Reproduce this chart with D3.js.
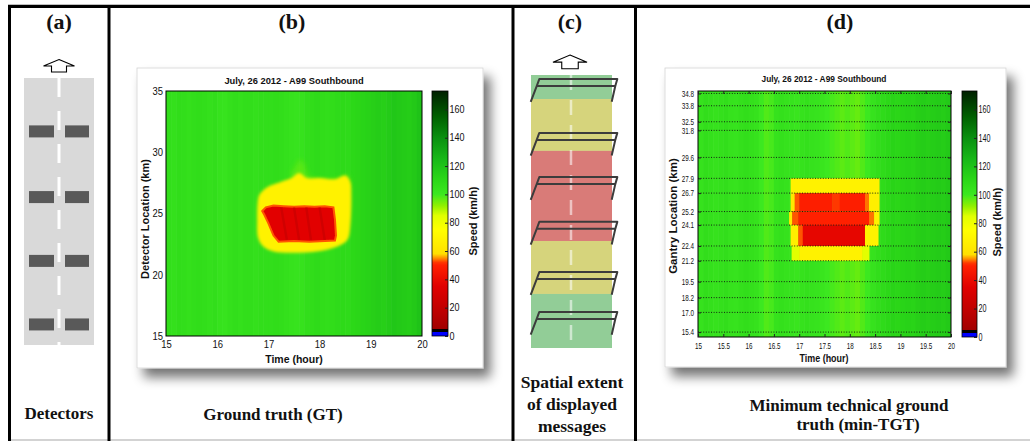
<!DOCTYPE html>
<html>
<head>
<meta charset="utf-8">
<script src="https://cdn.jsdelivr.net/npm/d3@7"></script>
<style>
  body { margin: 0; background: #fff; }
  svg { display: block; }
  .plot text { font-family: "Liberation Sans", Arial, sans-serif; fill: #111; }
  .cap { font-family: "Liberation Serif", "Times New Roman", serif; font-weight: bold; fill: #111; text-anchor: middle; }
</style>
</head>
<body>
<svg id="fig" width="1030" height="441"></svg>
<script>
// ---- data ----
const timeTicksB = [15, 16, 17, 18, 19, 20]
const kmTicksB = [15, 20, 25, 30, 35]
const timeTicksD = [15, 15.5, 16, 16.5, 17, 17.5, 18, 18.5, 19, 19.5, 20]
const gantryKm = [15.4, 17.0, 18.2, 19.5, 21.2, 22.4, 24.1, 25.2, 26.7, 27.9, 29.6, 31.8, 32.5, 33.8, 34.8]
const speedTicks = [0, 20, 40, 60, 80, 100, 120, 140, 160]
const speedMax = 173

// colour map of the speed bar (km/h -> colour)
const cmapSpeed = [0, 2.5, 2.5, 4.7, 4.7, 15, 35, 50, 52, 55, 58, 75, 85, 92, 100, 110, 125, 140, 155, 173]
const cmapColor = ['#0000ff', '#0000ff', '#000000', '#000000', '#a00000', '#b80000', '#e00000', '#ff2000', '#ff3800',
  '#ff9000', '#ffe000', '#ffff00', '#e0ff00', '#90f000', '#3ce820', '#2cd818', '#18b818', '#0a9010', '#006000', '#002000']

// free-flow speed per 0.1 h column, 15.0 .. 19.9
const colStep = 0.1
const bgSpeedB = [106, 105, 107, 106, 105, 106, 107, 106, 105, 106,
  104, 103, 105, 106, 105, 106, 106, 105, 106, 106,
  106, 107, 106, 105, 104, 103, 104, 106, 107, 108,
  107, 106, 107, 108, 109, 108, 110, 111, 112, 113,
  114, 115, 114, 116, 118, 117, 116, 115, 117, 120]
const bgSpeedD = [104, 106, 105, 104, 105, 106, 104, 103, 105, 106,
  105, 104, 100, 98, 99, 104, 105, 104, 103, 102,
  104, 105, 104, 103, 102, 100, 99, 98, 97, 98,
  97, 96, 98, 100, 104, 106, 108, 110, 112, 111,
  112, 113, 112, 114, 115, 114, 115, 116, 115, 117]

// ground truth congestion outlines [time h, km]
const lightZoneB = [[17.45, 28.0], [17.55, 29.0], [17.62, 29.4], [17.7, 29.0], [17.8, 28.0], [18.45, 27.9], [18.52, 28.2], [18.58, 27.5]]
const yellowZoneB = [[16.79, 25.9], [16.82, 26.5], [16.9, 26.9], [17.05, 27.3], [17.25, 27.6], [17.45, 27.9], [17.6, 28.3],
  [17.75, 27.9], [18.0, 27.9], [18.3, 27.8], [18.5, 28.1], [18.6, 27.6], [18.62, 26.5], [18.6, 24.0], [18.55, 22.9],
  [18.4, 22.4], [18.1, 22.0], [17.6, 21.8], [17.1, 21.9], [16.9, 22.3], [16.8, 23.0], [16.78, 24.5]]
const redZoneB = [[16.88, 25.2], [16.95, 25.5], [17.1, 25.65], [17.3, 25.6], [17.5, 25.55], [17.7, 25.6], [17.9, 25.55],
  [18.1, 25.6], [18.27, 25.5], [18.3, 24.5], [18.32, 23.2], [18.3, 22.8], [17.8, 22.7], [17.5, 22.75], [17.2, 22.7],
  [17.1, 23.2], [17.0, 24.2], [16.92, 24.9]]
const redStreaksB = [[17.25, 17.36], [17.5, 17.6], [17.74, 17.83], [18.0, 18.1]]

// min-TGT congestion cells [km low, km high, t start, t end, speed]
const congestionD = [
  [26.7, 27.9, 16.83, 18.58, 68],
  [25.2, 26.7, 16.83, 16.91, 62], [25.2, 26.7, 16.91, 17.0, 53], [25.2, 26.7, 17.0, 17.65, 49],
  [25.2, 26.7, 17.65, 17.8, 52], [25.2, 26.7, 17.8, 18.3, 49], [25.2, 26.7, 18.3, 18.38, 54], [25.2, 26.7, 18.38, 18.58, 66],
  [24.1, 25.2, 16.8, 16.86, 64], [24.1, 25.2, 16.86, 16.98, 53], [24.1, 25.2, 16.98, 18.38, 50],
  [24.1, 25.2, 18.38, 18.48, 54], [24.1, 25.2, 18.48, 18.58, 68],
  [22.4, 24.1, 16.83, 16.98, 66], [22.4, 24.1, 16.98, 17.07, 53], [22.4, 24.1, 17.07, 18.3, 38], [22.4, 24.1, 18.3, 18.56, 68],
  [21.2, 22.4, 16.85, 17.0, 84], [21.2, 22.4, 17.0, 18.25, 68], [21.2, 22.4, 18.25, 18.38, 84]
]

// sketches: road positions in % of road length (top = 0)
const detectorsA = [20, 44.6, 68.5, 92.3]
const bandsC = [['#92cd97', 0, 8.8], ['#d6d47c', 8.8, 27.8], ['#d97b78', 27.8, 60.8], ['#d6d47c', 60.8, 80.2], ['#92cd97', 80.2, 100]]
const gantriesC = [1.5, 21.2, 37.4, 53.8, 72.2, 86.8]

// ---- drawing ----
const svg = d3.select('#fig')
const defs = svg.append('defs')
const speedColor = d3.scaleLinear().domain(cmapSpeed).range(cmapColor).clamp(true)

const squeeze = (sel, k) => sel.each(function () {
  const w = this.getComputedTextLength()
  d3.select(this).attr('textLength', w * k).attr('lengthAdjust', 'spacingAndGlyphs')
})

// drop shadow for chart boxes
const sh = defs.append('filter').attr('id', 'shadow').attr('x', '-10%').attr('y', '-10%').attr('width', '130%').attr('height', '130%')
sh.append('feGaussianBlur').attr('in', 'SourceAlpha').attr('stdDeviation', 6)
sh.append('feOffset').attr('dx', 7).attr('dy', 9).attr('result', 'off')
sh.append('feComponentTransfer').append('feFuncA').attr('type', 'linear').attr('slope', 0.55)
const shm = sh.append('feMerge')
shm.append('feMergeNode')
shm.append('feMergeNode').attr('in', 'SourceGraphic')

const blur = (id, s) => defs.append('filter').attr('id', id).attr('x', '-20%').attr('y', '-20%').attr('width', '140%').attr('height', '140%')
  .append('feGaussianBlur').attr('stdDeviation', s)
blur('soft1', 1.4)
blur('soft2', 2.5)
blur('soft0', 0.6)

// colour bar gradient
const grad = defs.append('linearGradient').attr('id', 'cbar').attr('x1', 0).attr('y1', 1).attr('x2', 0).attr('y2', 0)
cmapSpeed.forEach((s, i) => grad.append('stop').attr('offset', s / speedMax).attr('stop-color', cmapColor[i]))

// ---------- panel frames ----------
svg.append('line').attr('x1', 8).attr('x2', 1030).attr('y1', 6.3).attr('y2', 6.3).attr('stroke', '#000').attr('stroke-width', 3.3)
svg.append('line').attr('x1', 8).attr('x2', 1030).attr('y1', 440).attr('y2', 440).attr('stroke', '#a8a8a8').attr('stroke-width', 1.2)
;[9.5, 109, 513, 635.5].forEach(x => {
  svg.append('line').attr('x1', x).attr('x2', x).attr('y1', 5).attr('y2', 441).attr('stroke', '#000').attr('stroke-width', 3)
})

const caps = [['(a)', 59, 29, 22], ['(b)', 292, 29, 22], ['(c)', 570, 29, 22], ['(d)', 840, 29, 22],
  ['Detectors', 59, 419, 17], ['Ground truth (GT)', 273, 420, 17],
  ['Spatial extent', 572, 388, 17.5], ['of displayed', 572, 410, 17.5], ['messages', 572, 432, 17.5],
  ['Minimum technical ground', 849, 411, 17], ['truth (min-TGT)', 858, 430, 17]]
svg.selectAll('text.cap').data(caps).enter().append('text').attr('class', 'cap')
  .attr('x', d => d[1]).attr('y', d => d[2]).style('font-size', d => d[3] + 'px').text(d => d[0])

const arrow = (x, y, k) => {
  const pts = [[0, 0], [15.5, 6.5], [7.5, 6.5], [7.5, 12.5], [-7.5, 12.5], [-7.5, 6.5], [-15.5, 6.5]]
  svg.append('polygon').attr('points', pts.map(p => [x + p[0] * k, y + p[1] * k].join(',')).join(' '))
    .attr('fill', '#fff').attr('stroke', '#000').attr('stroke-width', 1.1)
}

// ---------- panel (a) ----------
const roadA = d3.scaleLinear().domain([0, 100]).range([78, 345])
arrow(59, 59.5, 1)
svg.append('rect').attr('x', 24).attr('y', roadA(0)).attr('width', 70).attr('height', roadA(100) - roadA(0)).attr('fill', '#d9d9d9')
svg.append('line').attr('x1', 59).attr('x2', 59).attr('y1', roadA(0)).attr('y2', roadA(100))
  .attr('stroke', '#fff').attr('stroke-width', 3).attr('stroke-dasharray', '19,14')
svg.selectAll('g.det').data(detectorsA).enter().append('g').each(function (d) {
  const g = d3.select(this)
  g.append('rect').attr('x', 29).attr('y', roadA(d) - 6).attr('width', 25).attr('height', 12).attr('fill', '#595959')
  g.append('rect').attr('x', 65).attr('y', roadA(d) - 6).attr('width', 24).attr('height', 12).attr('fill', '#595959')
})

// ---------- panel (c) ----------
const roadC = d3.scaleLinear().domain([0, 100]).range([75, 348])
arrow(570, 55, 1.1)
svg.append('rect').attr('x', 531).attr('y', roadC(0)).attr('width', 81).attr('height', roadC(100) - roadC(0)).attr('fill', '#d9d9d9')
svg.selectAll('rect.band').data(bandsC).enter().append('rect').attr('class', 'band')
  .attr('x', 531).attr('width', 81).attr('y', d => roadC(d[1])).attr('height', d => roadC(d[2]) - roadC(d[1])).attr('fill', d => d[0])
svg.append('line').attr('x1', 571).attr('x2', 571).attr('y1', roadC(0)).attr('y2', roadC(100))
  .attr('stroke', 'rgba(255,255,255,0.55)').attr('stroke-width', 2.5).attr('stroke-dasharray', '15,10')
svg.selectAll('path.gantry').data(gantriesC).enter().append('path').attr('class', 'gantry')
  .attr('d', d => {
    const y = roadC(d)
    return `M530.7,${y + 22.7} L536.7,${y + 7} L539.3,${y} L617.3,${y} L615.3,${y + 7} L611.7,${y + 22.7}` +
      ` M536.7,${y + 7} L615.3,${y + 7}`
  })
  .attr('fill', 'none').attr('stroke', '#3c3c3c').attr('stroke-width', 2).attr('stroke-linejoin', 'round')

// ---------- chart helper ----------
function chartBox(x0, y0, x1, y1) {
  svg.append('rect').attr('x', x0).attr('y', y0).attr('width', x1 - x0).attr('height', y1 - y0)
    .attr('fill', '#fff').attr('stroke', '#d4d4d4').attr('stroke-width', 0.8).attr('filter', 'url(#shadow)')
}

function colorBar(g, x0, x1, cbY, k) {
  g.append('rect').attr('x', x0).attr('y', cbY(speedMax)).attr('width', x1 - x0).attr('height', cbY(0) - cbY(speedMax))
    .attr('fill', 'url(#cbar)').attr('stroke', '#000').attr('stroke-width', 0.8)
  const ax = g.append('g').attr('transform', `translate(${x1},0)`)
    .call(d3.axisRight(cbY).tickValues(speedTicks).tickSize(-3).tickPadding(1.5))
  ax.select('.domain').remove()
  ax.selectAll('line').attr('stroke', '#222')
  ax.selectAll('text').style('font-size', '10px').style('font-family', '"Liberation Sans", Arial, sans-serif').call(squeeze, k)
}

// ---------- panel (b) ----------
chartBox(137, 68, 483, 368)
const gB = svg.append('g').attr('class', 'plot')
const xB = d3.scaleLinear().domain([15, 20]).range([166, 422])
const yB = d3.scaleLinear().domain([15, 35]).range([336, 91])
defs.append('clipPath').attr('id', 'clipB').append('rect')
  .attr('x', xB(15)).attr('y', yB(35)).attr('width', xB(20) - xB(15)).attr('height', yB(15) - yB(35))
const hB = gB.append('g').attr('clip-path', 'url(#clipB)')
hB.selectAll('rect').data(bgSpeedB).enter().append('rect')
  .attr('x', (d, i) => xB(15 + i * colStep)).attr('width', xB(15 + colStep) - xB(15) + 0.6)
  .attr('y', yB(35)).attr('height', yB(15) - yB(35)).attr('fill', d => speedColor(d))
const areaLine = d3.line().x(d => xB(d[0])).y(d => yB(d[1])).curve(d3.curveCatmullRomClosed)
hB.append('path').attr('d', areaLine(lightZoneB)).attr('fill', speedColor(95)).attr('opacity', 0.6).attr('filter', 'url(#soft2)')
hB.append('path').attr('d', areaLine(yellowZoneB)).attr('fill', speedColor(68)).attr('filter', 'url(#soft1)')
const polyLine = d3.line().x(d => xB(d[0])).y(d => yB(d[1])).curve(d3.curveLinearClosed)
hB.append('path').attr('d', polyLine(redZoneB)).attr('fill', speedColor(36))
  .attr('stroke', speedColor(53)).attr('stroke-width', 2).attr('filter', 'url(#soft0)')
hB.selectAll('line.streak').data(redStreaksB).enter().append('line').attr('class', 'streak')
  .attr('x1', d => xB(d[0])).attr('y1', yB(25.5)).attr('x2', d => xB(d[1])).attr('y2', yB(22.85))
  .attr('stroke', speedColor(20)).attr('stroke-width', 2.5).attr('opacity', 0.55)
gB.append('rect').attr('x', xB(15)).attr('y', yB(35)).attr('width', xB(20) - xB(15)).attr('height', yB(15) - yB(35))
  .attr('fill', 'none').attr('stroke', '#000').attr('stroke-width', 1)

const axB = gB.append('g').attr('transform', `translate(0,${yB(15)})`)
  .call(d3.axisBottom(xB).tickValues(timeTicksB).tickSize(0).tickPadding(5).tickFormat(d3.format('d')))
const ayB = gB.append('g').attr('transform', `translate(${xB(15)},0)`)
  .call(d3.axisLeft(yB).tickValues(kmTicksB).tickSize(0).tickPadding(3).tickFormat(d3.format('d')))
;[axB, ayB].forEach(a => {
  a.select('.domain').remove()
  a.selectAll('text').style('font-size', '10.5px').style('font-family', '"Liberation Sans", Arial, sans-serif').call(squeeze, 0.9)
})
gB.append('text').attr('x', 294).attr('y', 84).attr('text-anchor', 'middle').style('font-size', '9.5px').style('font-weight', 'bold')
  .text('July, 26 2012 - A99 Southbound').call(squeeze, 0.98)
gB.append('text').attr('x', 294).attr('y', 363).attr('text-anchor', 'middle').style('font-size', '10.5px').style('font-weight', 'bold')
  .text('Time (hour)')
gB.append('text').attr('transform', 'translate(149,219) rotate(-90)').attr('text-anchor', 'middle')
  .style('font-size', '11px').style('font-weight', 'bold').text('Detector Location (km)')
const cbB = d3.scaleLinear().domain([0, speedMax]).range([336, 91])
colorBar(gB, 432, 448, cbB, 0.9)
gB.append('text').attr('transform', 'translate(477,221) rotate(-90)').attr('text-anchor', 'middle')
  .style('font-size', '11px').style('font-weight', 'bold').text('Speed (km/h)')

// ---------- panel (d) ----------
chartBox(665, 68, 1006, 367)
const gD = svg.append('g').attr('class', 'plot')
const xD = d3.scaleLinear().domain([15, 20]).range([698, 951])
const yD = d3.scaleLinear().domain([15, 35]).range([337, 91])
defs.append('clipPath').attr('id', 'clipD').append('rect')
  .attr('x', xD(15)).attr('y', yD(35)).attr('width', xD(20) - xD(15)).attr('height', yD(15) - yD(35))
const hD = gD.append('g').attr('clip-path', 'url(#clipD)')
hD.selectAll('rect.col').data(bgSpeedD).enter().append('rect').attr('class', 'col')
  .attr('x', (d, i) => xD(15 + i * colStep)).attr('width', xD(15 + colStep) - xD(15) + 0.6)
  .attr('y', yD(35)).attr('height', yD(15) - yD(35)).attr('fill', d => speedColor(d))
hD.selectAll('rect.cong').data(congestionD).enter().append('rect').attr('class', 'cong')
  .attr('x', d => xD(d[2])).attr('width', d => xD(d[3]) - xD(d[2]) + 0.4)
  .attr('y', d => yD(d[1])).attr('height', d => yD(d[0]) - yD(d[1]))
  .attr('fill', d => speedColor(d[4]))
hD.selectAll('line.grid').data(gantryKm).enter().append('line').attr('class', 'grid')
  .attr('x1', xD(15)).attr('x2', xD(20)).attr('y1', d => yD(d)).attr('y2', d => yD(d))
  .attr('stroke', '#111').attr('stroke-width', 0.9).attr('stroke-dasharray', '1,1.6')
gD.append('rect').attr('x', xD(15)).attr('y', yD(35)).attr('width', xD(20) - xD(15)).attr('height', yD(15) - yD(35))
  .attr('fill', 'none').attr('stroke', '#000').attr('stroke-width', 1)

const axD = gD.append('g').attr('transform', `translate(0,${yD(15)})`)
  .call(d3.axisBottom(xD).tickValues(timeTicksD).tickSize(-3).tickPadding(5).tickFormat(d3.format('')))
const atD = gD.append('g').attr('transform', `translate(0,${yD(35)})`)
  .call(d3.axisTop(xD).tickValues(timeTicksD).tickSize(-3).tickFormat(''))
const ayD = gD.append('g').attr('transform', `translate(${xD(15)},0)`)
  .call(d3.axisLeft(yD).tickValues(gantryKm).tickSize(-3).tickPadding(4).tickFormat(d3.format('.1f')))
const arD = gD.append('g').attr('transform', `translate(${xD(20)},0)`)
  .call(d3.axisRight(yD).tickValues(gantryKm).tickSize(-3).tickFormat(''))
;[axD, atD, arD].forEach(a => {
  a.select('.domain').remove()
  a.selectAll('line').attr('stroke', '#222')
  a.selectAll('text').style('font-size', '9.5px').style('font-family', '"Liberation Sans", Arial, sans-serif').call(squeeze, 0.66)
})
ayD.select('.domain').remove()
ayD.selectAll('line').attr('stroke', '#222')
ayD.selectAll('text').style('font-size', '8.5px').style('font-family', '"Liberation Sans", Arial, sans-serif').call(squeeze, 0.74)
gD.append('text').attr('x', 824).attr('y', 82).attr('text-anchor', 'middle').style('font-size', '9.5px').style('font-weight', 'bold')
  .text('July, 26 2012 - A99 Southbound').call(squeeze, 0.88)
gD.append('text').attr('x', 824).attr('y', 362).attr('text-anchor', 'middle').style('font-size', '10.5px').style('font-weight', 'bold')
  .text('Time (hour)').call(squeeze, 0.85)
gD.append('text').attr('transform', 'translate(677,216) rotate(-90)').attr('text-anchor', 'middle')
  .style('font-size', '11.5px').style('font-weight', 'bold').text('Gantry Location (km)')
const cbD = d3.scaleLinear().domain([0, speedMax]).range([337, 91])
colorBar(gD, 962, 977, cbD, 0.72)
gD.append('text').attr('transform', 'translate(1001,222) rotate(-90)').attr('text-anchor', 'middle')
  .style('font-size', '11px').style('font-weight', 'bold').text('Speed (km/h)')
</script>
</body>
</html>
